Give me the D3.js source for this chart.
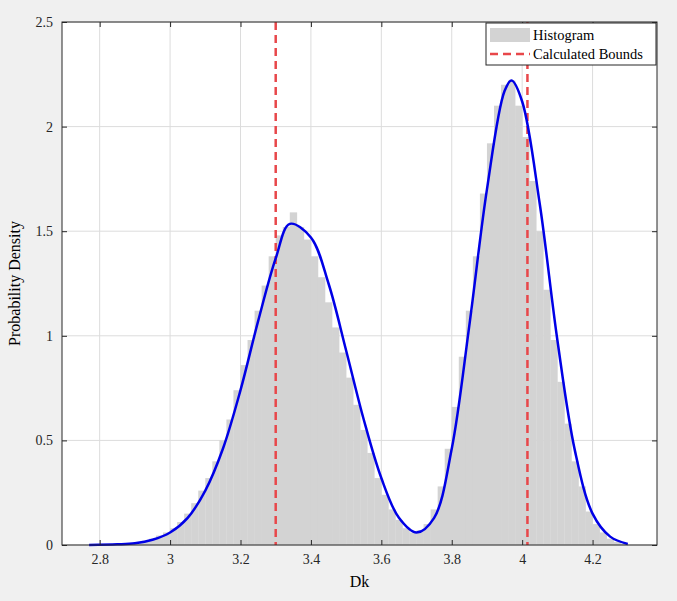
<!DOCTYPE html>
<html><head><meta charset="utf-8">
<script src="https://cdn.jsdelivr.net/npm/d3@7"></script>
<style>
body { margin:0; background:#f0f0f0; }
svg text { font-family:"Liberation Serif", serif !important; }
</style></head>
<body>
<script>
// histogram: bins of width 0.02 starting at 2.78
var binStart = 2.78, binWidth = 0.02;
var histValues = [0,0,0,0.003,0.005,0.008,0.012,0.02,0.03,0.045,
  0.06,0.08,0.11,0.15,0.2, 0.26,0.32,0.4,0.5,0.6, 0.74,0.86,0.98,1.12,1.24,
  1.38,1.48,1.52,1.59,1.52, 1.46,1.38,1.28,1.16,1.04, 0.92,0.8,0.67,0.55,0.44,
  0.32,0.24,0.17,0.12,0.08, 0.06,0.07,0.1,0.17,0.28, 0.46,0.66,0.9,1.12,1.38,
  1.68,1.92,2.1,2.2,2.22, 2.1,1.95,1.74,1.5,1.22, 0.98,0.78,0.58,0.4,0.28,
  0.16,0.1,0.06,0.03,0.015, 0.005];
// fitted density curve
var curveX = [2.77,2.85,2.9,2.95,3.0,3.05,3.1,3.15,3.2,3.25,3.3,3.34,3.4,3.45,3.5,3.55,3.6,3.65,3.7,3.75,3.8,3.85,3.9,3.95,3.97,4.0,4.05,4.1,4.15,4.2,4.25,4.3];
var curveY = [0,0.003,0.008,0.025,0.06,0.13,0.26,0.46,0.74,1.07,1.37,1.535,1.47,1.25,0.93,0.6,0.32,0.13,0.06,0.13,0.46,1.05,1.7,2.17,2.22,2.12,1.63,0.98,0.45,0.15,0.04,0.005];
var bounds = [3.30, 4.015];
var xTicks = [2.8,3,3.2,3.4,3.6,3.8,4,4.2];
var yTicks = [0,0.5,1,1.5,2,2.5];

var W = 677, H = 601,
    margin = { top: 22, right: 20, bottom: 56, left: 62 },
    cw = W - margin.left - margin.right,
    ch = H - margin.top - margin.bottom;

var x = d3.scaleLinear().domain([2.693, 4.383]).range([0, cw]);
var y = d3.scaleLinear().domain([0, 2.5]).range([ch, 0]);

var svg = d3.select('body').append('svg').attr('width', W).attr('height', H)
  .append('g').attr('transform', 'translate(' + margin.left + ',' + margin.top + ')');

svg.append('rect').attr('width', cw).attr('height', ch).attr('fill', '#fff');

// grid
svg.selectAll('.gx').data(xTicks).enter().append('line')
  .attr('x1', function (d) { return x(d); }).attr('x2', function (d) { return x(d); })
  .attr('y1', 0).attr('y2', ch).attr('stroke', '#dcdcdc');
svg.selectAll('.gy').data(yTicks).enter().append('line')
  .attr('y1', function (d) { return y(d); }).attr('y2', function (d) { return y(d); })
  .attr('x1', 0).attr('x2', cw).attr('stroke', '#dcdcdc');

// histogram
svg.selectAll('.bar').data(histValues).enter().append('rect')
  .attr('x', function (d, i) { return x(binStart + i * binWidth); })
  .attr('width', x(binStart + binWidth) - x(binStart) + 0.3)
  .attr('y', function (d) { return y(d); })
  .attr('height', function (d) { return ch - y(d); })
  .attr('fill', '#d3d3d3');

// bounds
svg.selectAll('.bd').data(bounds).enter().append('line')
  .attr('x1', function (d) { return x(d); }).attr('x2', function (d) { return x(d); })
  .attr('y1', 0).attr('y2', ch)
  .attr('stroke', '#e8474a').attr('stroke-width', 2.5).attr('stroke-dasharray', '8,5');

// curve
var line = d3.line().x(function (d, i) { return x(curveX[i]); }).y(function (d) { return y(d); })
  .curve(d3.curveCatmullRom.alpha(0.5));
svg.append('path').datum(curveY).attr('d', line)
  .attr('fill', 'none').attr('stroke', '#0000e6').attr('stroke-width', 2.5);

// axes
var fmt = d3.format('~g');
var xAxis = d3.axisBottom(x).tickValues(xTicks).tickSizeInner(-5).tickSizeOuter(0).tickPadding(9).tickFormat(fmt);
var yAxis = d3.axisLeft(y).tickValues(yTicks).tickSizeInner(-5).tickSizeOuter(0).tickPadding(9).tickFormat(fmt);
svg.append('g').attr('transform', 'translate(0,' + ch + ')').call(xAxis);
svg.append('g').call(yAxis);
svg.append('g').call(d3.axisTop(x).tickValues(xTicks).tickSizeInner(-5).tickSizeOuter(0).tickFormat(''));
svg.append('g').attr('transform', 'translate(' + cw + ',0)')
  .call(d3.axisRight(y).tickValues(yTicks).tickSizeInner(-5).tickSizeOuter(0).tickFormat(''));
svg.selectAll('.tick text').attr('font-size', 14).attr('fill', '#262626');
svg.selectAll('.domain').remove();
svg.selectAll('.tick line').attr('stroke', '#262626');
svg.append('rect').attr('width', cw).attr('height', ch).attr('fill', 'none').attr('stroke', '#262626');

svg.append('text').attr('x', cw / 2).attr('y', ch + 42).attr('text-anchor', 'middle')
  .attr('font-size', 16).text('Dk');
svg.append('text').attr('transform', 'rotate(-90)').attr('x', -ch / 2).attr('y', -42)
  .attr('text-anchor', 'middle').attr('font-size', 16).text('Probability Density');

// legend
var lg = svg.append('g').attr('transform', 'translate(' + (cw - 171) + ',1)');
lg.append('rect').attr('width', 170).attr('height', 42).attr('fill', '#fff').attr('stroke', '#262626');
lg.append('rect').attr('x', 4).attr('y', 5).attr('width', 40).attr('height', 14).attr('fill', '#d3d3d3');
lg.append('line').attr('x1', 4).attr('x2', 44).attr('y1', 31).attr('y2', 31)
  .attr('stroke', '#e8474a').attr('stroke-width', 2.5).attr('stroke-dasharray', '8,5');
lg.append('text').attr('x', 47).attr('y', 17).attr('font-size', 14.5).text('Histogram');
lg.append('text').attr('x', 47).attr('y', 36).attr('font-size', 14.5).text('Calculated Bounds');
</script>
</body></html>
